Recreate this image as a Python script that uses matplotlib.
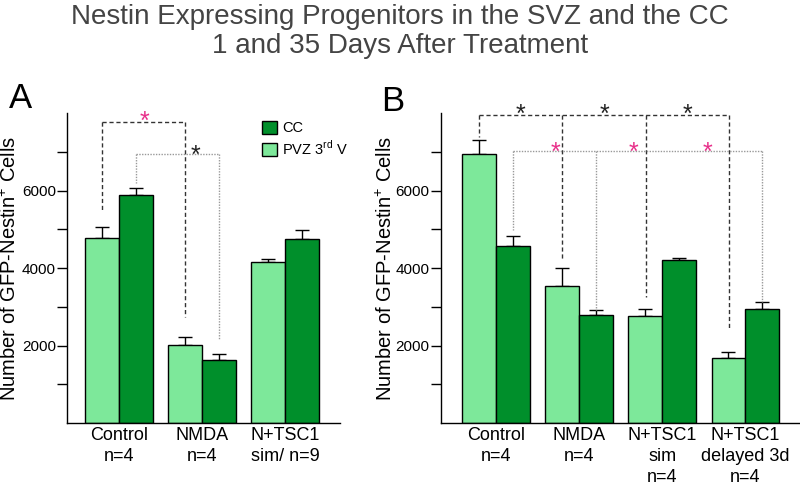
import matplotlib

matplotlib.use("Agg")
import matplotlib.pyplot as plt
from matplotlib.patches import Patch
from matplotlib.ticker import FixedLocator

plt.rcParams["font.family"] = ["Liberation Sans", "DejaVu Sans"]
plt.rcParams["mathtext.fontset"] = "custom"
plt.rcParams["mathtext.rm"] = "Liberation Sans"

# Panel A: 1 day after treatment
groups_a = ["Control\nn=4", "NMDA\nn=4", "N+TSC1\nsim/ n=9"]
pvz_a = [4780, 2005, 4150]
pvz_err_a = [270, 205, 85]
cc_a = [5885, 1635, 4740]
cc_err_a = [170, 145, 240]

# Panel B: 35 days after treatment
groups_b = ["Control\nn=4", "NMDA\nn=4", "N+TSC1\nsim\nn=4", "N+TSC1\ndelayed 3d\nn=4"]
pvz_b = [6935, 3545, 2770, 1670]
pvz_err_b = [370, 445, 165, 170]
cc_b = [4560, 2795, 4205, 2940]
cc_err_b = [275, 130, 50, 180]

# significance brackets: x positions, top level, bottom of each drop, stars
sig_a_dash_x = [-0.2, 0.8]
sig_a_dash_top = 7766
sig_a_dash_bottom = [5497, 2743]
sig_a_dash_star = [(0.31, 7972)]
sig_a_dot_x = [0.2, 1.2]
sig_a_dot_top = 6940
sig_a_dot_bottom = [6185, 2160]
sig_a_dot_star = [(0.92, 7113)]

sig_b_dash_x = [-0.2, 0.8, 1.8, 2.8]
sig_b_dash_top = 7946
sig_b_dash_bottom = [7390, 4206, 3260, 2400]
sig_b_dash_star = [(0.29, 8160), (1.31, 8160), (2.30, 8160)]
sig_b_dot_x = [0.2, 1.2, 3.2]
sig_b_dot_top = 7025
sig_b_dot_bottom = [4980, 2916, 3130]
sig_b_dot_star = [(0.72, 7172), (1.65, 7172), (2.55, 7172)]

LIGHT = "#7de89a"
DARK = "#008f2b"
PINK = "#e8308a"
STAR_FS = 18
W = 0.405

fig = plt.figure(figsize=(8, 4.82), dpi=100)
ax_a = fig.add_axes([67 / 800, 59 / 482, 273 / 800, 310 / 482])
ax_b = fig.add_axes([440.7 / 800, 59 / 482, 359.3 / 800, 310 / 482])


def draw_bars(ax, labels, pvz, pvz_err, cc, cc_err, xlim):
    x = list(range(len(labels)))
    xl = [i - W / 2 for i in x]
    xd = [i + W / 2 for i in x]
    ax.bar(xl, pvz, W, color=LIGHT, edgecolor="black", linewidth=1.0, zorder=2)
    ax.bar(xd, cc, W, color=DARK, edgecolor="black", linewidth=1.0, zorder=2)
    ax.errorbar(xl, pvz, yerr=[[0] * len(pvz), pvz_err], fmt="none", ecolor="black",
                elinewidth=1.0, capsize=5, capthick=1.0, zorder=1)
    ax.errorbar(xd, cc, yerr=[[0] * len(cc), cc_err], fmt="none", ecolor="black",
                elinewidth=1.0, capsize=5, capthick=1.0, zorder=1)
    ax.set_xlim(*xlim)
    ax.set_ylim(0, 8000)
    ax.set_xticks(x)
    ax.set_xticklabels(labels, fontsize=13, linespacing=1.3)
    ax.tick_params(axis="x", length=0, pad=3)
    ax.yaxis.set_major_locator(FixedLocator([2000, 4000, 6000]))
    ax.yaxis.set_minor_locator(FixedLocator([1000, 3000, 5000, 7000]))
    ax.tick_params(axis="y", which="both", length=7, width=1.0, labelsize=11, pad=1)
    for s in ["top", "right"]:
        ax.spines[s].set_visible(False)
    for s in ["left", "bottom"]:
        ax.spines[s].set_linewidth(1.0)
    ax.set_ylabel("Number of GFP-Nestin$^{+}$ Cells", fontsize=14.5, va="center")


def bracket(ax, xs, top, bottoms, style, color, stars, star_color):
    ax.plot([xs[0], xs[-1]], [top, top], linestyle=style, color=color, lw=1.0,
            clip_on=False, zorder=3)
    for xv, yb in zip(xs, bottoms):
        ax.plot([xv, xv], [top, yb], linestyle=style, color=color, lw=1.0,
                clip_on=False, zorder=3)
    for sx, sy in stars:
        ax.annotate("*", (sx, sy), xytext=(0, -0.6 * STAR_FS), textcoords="offset points",
                    ha="center", va="baseline", fontsize=STAR_FS, color=star_color,
                    annotation_clip=False)


draw_bars(ax_a, groups_a, pvz_a, pvz_err_a, cc_a, cc_err_a, (-0.627, 2.663))
draw_bars(ax_b, groups_b, pvz_b, pvz_err_b, cc_b, cc_err_b, (-0.666, 3.66))
ax_a.yaxis.set_label_coords(-0.209, 0.5)
ax_b.yaxis.set_label_coords(-0.153, 0.5)

DASH = (0, (3, 2))
DOT = (0, (1, 1))
bracket(ax_a, sig_a_dash_x, sig_a_dash_top, sig_a_dash_bottom, DASH, "#333333", sig_a_dash_star, PINK)
bracket(ax_a, sig_a_dot_x, sig_a_dot_top, sig_a_dot_bottom, DOT, "#999999", sig_a_dot_star, "#222222")
bracket(ax_b, sig_b_dash_x, sig_b_dash_top, sig_b_dash_bottom, DASH, "#333333", sig_b_dash_star, "#222222")
bracket(ax_b, sig_b_dot_x, sig_b_dot_top, sig_b_dot_bottom, DOT, "#999999", sig_b_dot_star, PINK)

handles = [Patch(facecolor=DARK, edgecolor="black", linewidth=1.0),
           Patch(facecolor=LIGHT, edgecolor="black", linewidth=1.0)]
ax_a.legend(handles, ["CC", "PVZ 3$^{\\mathrm{rd}}$ V"], loc="upper left",
            bbox_to_anchor=(0.714, 0.975), frameon=False, fontsize=10.5,
            handlelength=1.0, handleheight=1.0, handletextpad=0.4,
            labelspacing=0.25, borderpad=0, borderaxespad=0)

fig.text(0.5, 1 - 24 / 482, "Nestin Expressing Progenitors in the SVZ and the CC",
         ha="center", va="baseline", fontsize=20, color="#444444")
fig.text(0.5, 1 - 53 / 482, "1 and 35 Days After Treatment",
         ha="center", va="baseline", fontsize=20, color="#444444")
fig.text(9 / 800, 1 - 108 / 482, "A", ha="left", va="baseline", fontsize=25)
fig.text(381 / 800, 1 - 111 / 482, "B", ha="left", va="baseline", fontsize=25)

fig.savefig("out.png", dpi=100)
